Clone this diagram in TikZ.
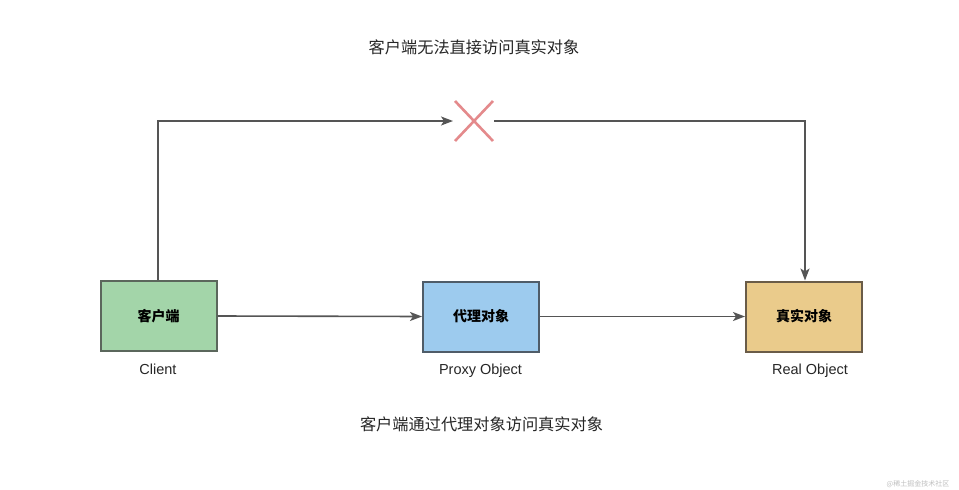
\documentclass[tikz,border=0pt]{standalone}
\usepackage{fontspec}
\setmainfont{Noto Sans CJK SC}
\newfontfamily\latinfont{Liberation Sans}
\usetikzlibrary{arrows.meta}
\definecolor{gfill}{HTML}{A3D5A9}
\definecolor{gdraw}{HTML}{5B675C}
\definecolor{bfill}{HTML}{9DCBEE}
\definecolor{bdraw}{HTML}{4F5C68}
\definecolor{yfill}{HTML}{EACB8B}
\definecolor{ydraw}{HTML}{6A5C48}
\definecolor{linec}{HTML}{555555}
\definecolor{xcol}{HTML}{E48A8C}
\begin{document}
\begin{tikzpicture}[x=1pt,y=-1pt,
  box/.style={draw, line width=2pt, minimum width=116pt, minimum height=70pt, inner sep=0pt, font=\fontsize{14}{16}\selectfont\bfseries},
  lbl/.style={anchor=base, font=\latinfont\fontsize{14.5}{16}\selectfont, text=black!85},
  title/.style={font=\fontsize{16.2}{18}\selectfont, text=black!85},
  conn/.style={draw=linec, line width=1.6pt, -{Stealth[length=12pt,width=9pt,inset=3pt]}}]
\useasboundingbox[fill=white] (0,0) rectangle (959,490);
\node[box, fill=gfill, draw=gdraw] (client) at (158.5,316) {客户端};
\node[box, fill=bfill, draw=bdraw] (proxy) at (481,316.5) {代理对象};
\node[box, fill=yfill, draw=ydraw] (real) at (804,316.5) {真实对象};
\node[lbl] (lc) at (158,374) {Client};
\node[lbl] (lp) at (480.5,374) {Proxy Object};
\node[lbl] (lr) at (810,374) {Real Object};
\node[title] (t1) at (474,47) {客户端无法直接访问真实对象};
\node[title] (t2) at (481.5,424) {客户端通过代理对象访问真实对象};
\node[font=\fontsize{7}{8}\selectfont, text=black!25] (wm) at (918,484) {@稀土掘金技术社区};
\coordinate (xl) at (453,121);
\coordinate (xr) at (494,121);
\draw[xcol, line width=2.6pt] (455,101) -- (493,141) (455,141) -- (493,101);
\draw[conn] (client.north -| 158,0) |- (xl);
\draw[conn] (xr) -| (real.north -| 805,0);
\draw[conn] (client.east) -- (proxy.west);
\draw[conn] (proxy.east) -- (real.west);
\end{tikzpicture}
\end{document}
